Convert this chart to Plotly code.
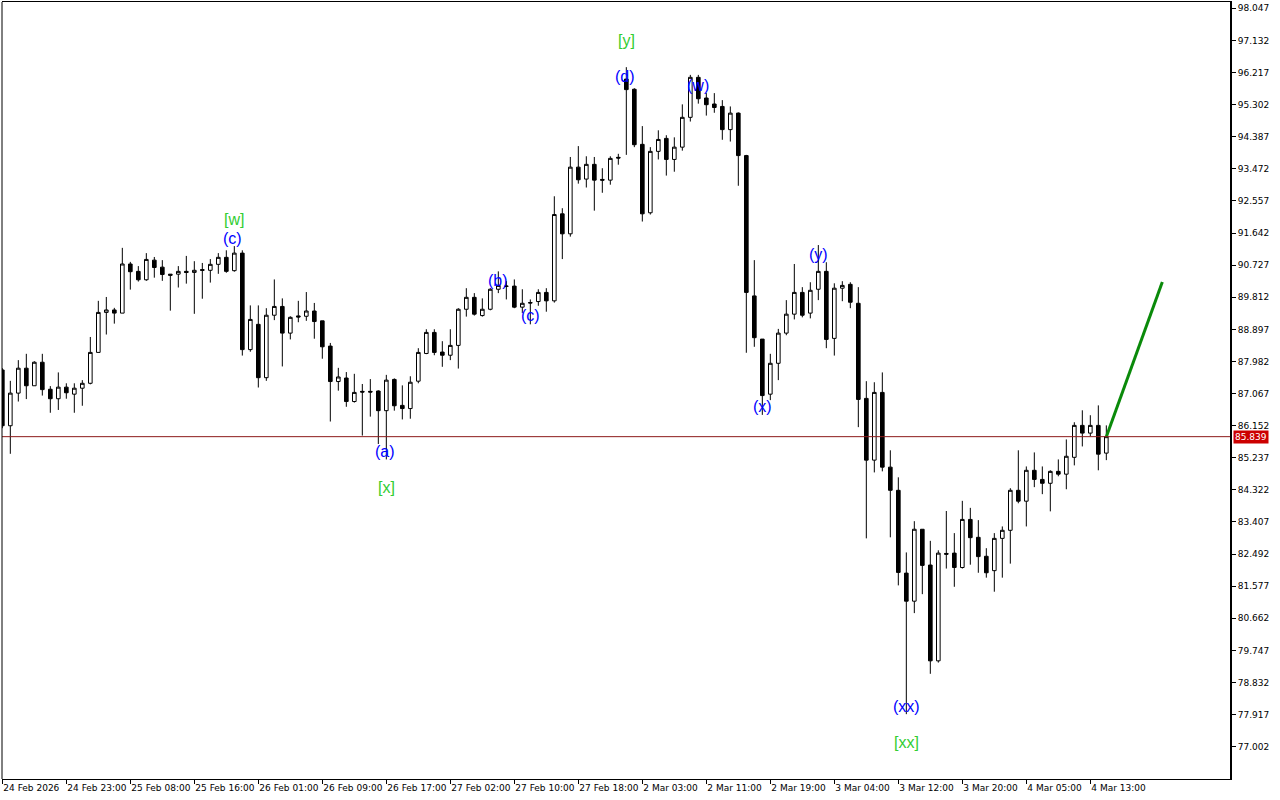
import plotly.graph_objects as go

# hourly candles, index 0..138
opens = [87.74,86.15,87.08,87.79,87.29,87.96,87.19,86.92,87.25,87.05,87.22,87.36,88.24,89.38,89.45,89.36,90.76,90.55,90.31,90.87,
         90.67,90.47,90.47,90.55,90.52,90.60,90.58,90.75,90.95,90.57,91.07,88.32,89.04,87.52,89.30,89.55,88.79,89.28,89.27,89.42,
         89.14,88.42,87.41,87.51,86.84,87.13,87.13,87.14,86.58,87.47,86.73,86.64,87.42,88.21,88.81,88.25,88.16,88.44,89.47,89.81,
         89.29,89.47,90.04,90.12,90.13,89.53,89.66,89.69,89.95,89.71,92.19,91.62,93.52,93.18,93.60,93.17,93.15,93.80,96.03,95.74,
         94.17,92.22,93.97,94.34,93.74,94.09,94.94,96.08,95.49,95.32,95.25,94.59,95.06,93.85,89.85,88.62,87.05,87.93,88.79,89.33,
         89.95,89.36,90.04,90.55,88.64,90.07,90.18,89.64,86.93,85.17,87.10,84.97,84.31,81.95,81.15,83.20,82.18,79.45,82.51,82.52,
         82.11,83.48,82.97,82.43,82.02,82.94,83.17,84.31,84.00,84.88,84.62,84.51,84.85,84.77,85.25,86.16,85.94,86.16,85.37]
highs = [87.79,87.43,88.02,88.20,87.99,88.20,87.28,87.67,87.36,87.36,87.45,88.68,89.71,89.82,89.51,91.22,90.82,90.70,91.07,90.96,
         90.87,90.47,90.70,90.99,90.84,90.79,90.90,91.07,91.15,91.27,91.15,89.58,89.58,89.50,90.32,89.78,89.27,89.71,89.96,89.65,
         89.14,88.51,87.80,87.68,87.63,87.34,87.48,87.16,87.60,87.50,87.30,87.56,88.36,88.90,88.90,88.56,88.90,89.50,90.07,89.93,
         89.78,90.07,90.55,90.27,90.32,90.04,89.75,90.04,90.07,92.69,92.35,93.81,94.12,93.83,93.81,93.49,93.83,93.90,96.37,95.77,
         94.69,94.09,94.57,94.43,94.37,95.31,96.15,96.15,95.63,95.63,95.43,95.25,95.08,93.87,90.87,88.62,88.20,88.91,89.73,90.76,
         90.10,90.24,91.30,90.81,90.21,90.27,90.24,90.10,87.42,87.39,87.67,85.45,84.68,82.54,83.43,83.20,82.87,82.60,83.72,83.09,
         84.01,83.81,83.46,82.66,83.09,83.28,84.37,85.45,84.99,85.39,84.99,84.88,85.19,85.76,86.25,86.59,86.45,86.73,86.16]
lows = [86.08,85.35,86.84,86.91,87.29,87.01,86.52,86.60,86.92,86.52,86.72,87.33,88.24,88.75,89.06,89.36,90.03,90.26,90.28,90.37,
        90.28,89.43,90.09,90.20,89.34,89.77,90.23,90.48,90.51,90.54,88.15,88.26,87.24,87.43,89.16,87.84,88.61,89.10,89.14,88.63,
        88.06,86.27,87.15,86.69,86.81,85.87,86.41,85.63,85.19,86.58,86.33,86.35,87.36,88.19,88.16,87.83,88.02,87.78,89.26,89.29,
        89.26,89.44,89.93,89.75,89.50,89.36,89.04,89.57,89.40,89.66,90.90,91.54,93.05,92.94,92.28,92.79,93.02,93.59,93.87,94.09,
        91.97,92.17,93.74,93.28,93.39,93.99,94.82,95.33,94.99,95.07,94.30,94.25,92.99,88.23,88.40,86.46,86.88,87.45,88.73,89.18,
        89.24,89.21,89.73,88.36,88.15,89.70,89.50,86.11,82.94,84.82,84.85,82.97,81.60,77.93,80.81,81.35,79.08,79.40,82.08,81.56,
        82.08,82.19,81.96,81.82,81.42,81.82,82.22,83.94,83.28,84.40,84.20,83.71,84.71,84.34,85.02,85.56,85.85,84.88,85.17]
closes = [86.15,87.08,87.79,87.29,87.96,87.18,86.92,87.25,87.09,87.22,87.36,88.24,89.38,89.45,89.36,90.76,90.54,90.31,90.89,90.66,
          90.46,90.44,90.55,90.52,90.58,90.58,90.75,90.95,90.55,91.07,88.32,89.18,87.52,89.30,89.55,88.79,89.24,89.25,89.42,89.12,
          88.40,87.41,87.54,86.84,87.10,87.11,87.11,86.58,87.45,86.72,86.64,87.39,88.24,88.81,88.24,88.16,88.44,89.47,89.81,89.33,
          89.47,90.04,90.15,90.13,89.53,89.64,89.65,89.95,89.71,92.17,91.62,93.52,93.16,93.60,93.15,93.15,93.77,93.78,95.73,94.16,
          92.19,93.97,94.31,93.74,94.09,94.94,96.08,95.47,95.30,95.22,94.59,95.06,93.85,89.95,88.66,87.01,87.93,88.79,89.33,89.95,
          89.30,90.01,90.55,88.61,90.07,90.15,89.67,86.90,85.17,87.10,84.97,84.31,81.97,81.15,83.20,82.17,79.45,82.52,82.49,82.11,
          83.48,82.96,82.42,81.96,82.94,83.17,84.31,84.00,84.88,84.62,84.51,84.85,84.77,85.28,86.16,85.94,86.16,85.34,85.839]
idx = list(range(len(opens)))

x_tick_pos = [0, 8, 16, 24, 32, 40, 48, 56, 64, 72, 80, 88, 96, 104, 112, 120, 128, 136]
x_tick_text = ["24 Feb 2026", "24 Feb 23:00", "25 Feb 08:00", "25 Feb 16:00", "26 Feb 01:00", "26 Feb 09:00",
               "26 Feb 17:00", "27 Feb 02:00", "27 Feb 10:00", "27 Feb 18:00", "2 Mar 03:00", "2 Mar 11:00",
               "2 Mar 19:00", "3 Mar 04:00", "3 Mar 12:00", "3 Mar 20:00", "4 Mar 05:00", "4 Mar 13:00"]
y_tick_vals = [98.047, 97.132, 96.217, 95.302, 94.387, 93.472, 92.557, 91.642, 90.727, 89.812, 88.897,
               87.982, 87.067, 86.152, 85.237, 84.322, 83.407, 82.492, 81.577, 80.662, 79.747, 78.832, 77.917, 77.002]
y_tick_text = ["98.047", "97.132", "96.217", "95.302", "94.387", "93.472", "92.557", "91.642", "90.727", "89.812",
               "88.897", "87.982", "87.067", "86.152", "85.237", "84.322", "83.407", "82.492", "81.577", "80.662",
               "79.747", "78.832", "77.917", "77.002"]

current_price = 85.839
current_price_text = "85.839"

minor_labels = ["(c)", "(a)", "(b)", "(c)", "(d)", "(w)", "(x)", "(y)", "(xx)"]
minor_x = [28.8, 47.8, 62.0, 66.0, 77.8, 87.0, 95.0, 102.0, 113.0]
minor_y = [91.50, 85.43, 90.28, 89.28, 96.09, 95.86, 86.71, 91.02, 78.16]

major_labels = ["[w]", "[x]", "[y]", "[xx]"]
major_x = [29.0, 48.0, 78.0, 113.0]
major_y = [92.04, 84.40, 97.14, 77.11]

forecast_x = [138, 145]
forecast_y = [85.839, 90.25]

fig = go.Figure()
fig.add_trace(go.Candlestick(
    x=idx, open=opens, high=highs, low=lows, close=closes,
    increasing=dict(line=dict(color="black", width=1), fillcolor="white"),
    decreasing=dict(line=dict(color="black", width=1), fillcolor="black"),
    whiskerwidth=0, showlegend=False, hoverinfo="skip"))

fig.add_trace(go.Scatter(x=forecast_x, y=forecast_y, mode="lines",
                         line=dict(color="#0a8a0a", width=3), showlegend=False, hoverinfo="skip"))

fig.add_hline(y=current_price, line=dict(color="#8c1a1a", width=1))

for t, xv, yv in zip(minor_labels, minor_x, minor_y):
    fig.add_annotation(x=xv, y=yv, text=t, showarrow=False,
                       font=dict(family="Liberation Sans, Arial", size=16, color="#0000ff"))
for t, xv, yv in zip(major_labels, major_x, major_y):
    fig.add_annotation(x=xv, y=yv, text=t, showarrow=False,
                       font=dict(family="Liberation Sans, Arial", size=16, color="#32cd32"))

fig.add_annotation(xref="paper", x=1, y=current_price, xanchor="left", yanchor="middle", xshift=3,
                   text=current_price_text, showarrow=False, bgcolor="#cc0000", borderpad=1,
                   font=dict(family="DejaVu Sans", size=9, color="white"))

fig.add_shape(type="line", xref="paper", yref="paper", x0=0, x1=0, y0=0, y1=1,
              line=dict(color="black", width=1))

fig.update_layout(
    width=1280, height=800,
    margin=dict(l=2, r=50, t=2, b=21, autoexpand=False),
    paper_bgcolor="white", plot_bgcolor="white",
    font=dict(family="DejaVu Sans", size=9, color="black"),
    boxgap=0.35,
    xaxis=dict(range=[-0.04, 153.46], tickvals=x_tick_pos, ticktext=x_tick_text, tickangle=0,
               ticks="outside", ticklen=4, tickcolor="black", ticklabelposition="outside right",
               showgrid=False, zeroline=False, showline=True, linecolor="black", linewidth=1,
               mirror=True, rangeslider=dict(visible=False), fixedrange=True, automargin=False,
               tickfont=dict(family="DejaVu Sans", size=9)),
    yaxis=dict(range=[76.082, 98.227], side="right", tickvals=y_tick_vals, ticktext=y_tick_text,
               ticks="outside", ticklen=4, tickcolor="black", automargin=False,
               showgrid=False, zeroline=False, showline=True, linecolor="black", linewidth=2,
               fixedrange=True, tickfont=dict(family="DejaVu Sans", size=9)),
)

fig.write_html("out.html", config={"displayModeBar": False},
               post_script="document.body.style.margin='0px';document.body.style.overflow='hidden';")
